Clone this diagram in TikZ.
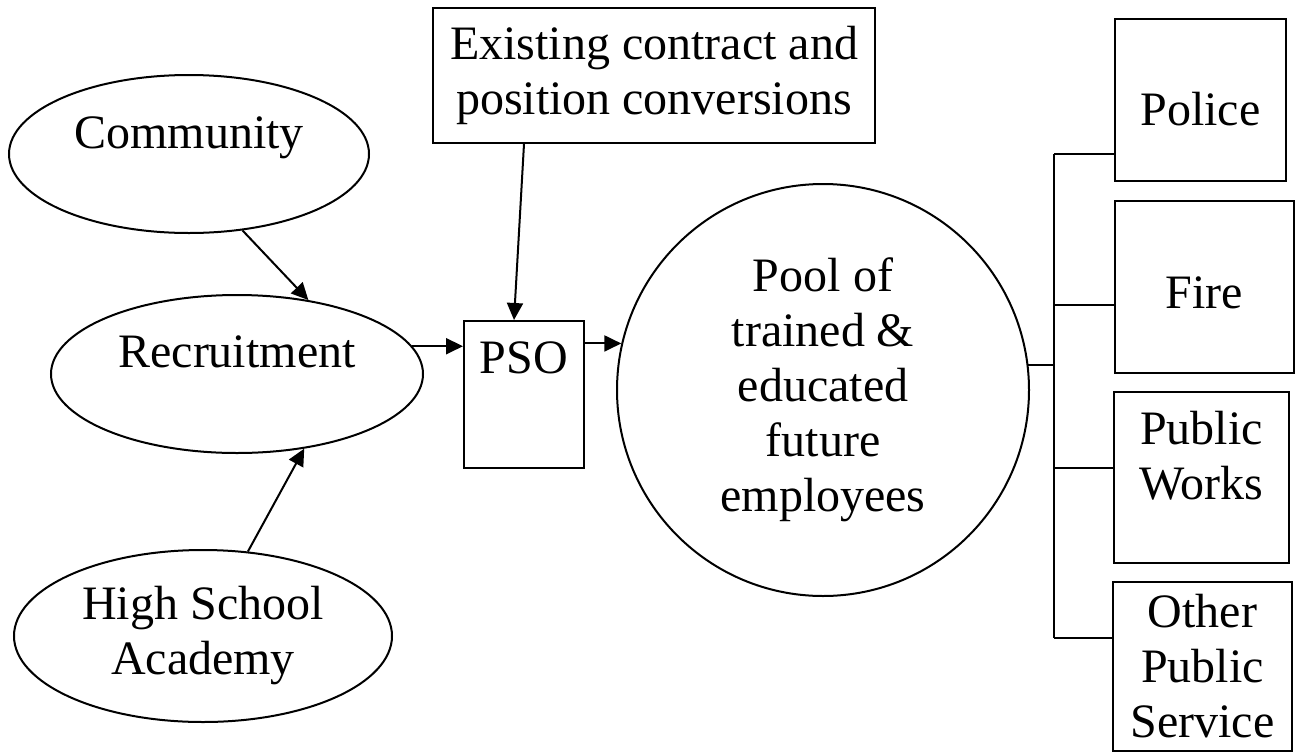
\documentclass[tikz,border=0pt]{standalone}
\usepackage{fontspec}
\setmainfont{Liberation Serif}
\usetikzlibrary{arrows.meta}
\usetikzlibrary{shapes.geometric}
\tikzset{
    oval/.style = {draw,ellipse,line width=2pt,inner sep=0,align=center},
    box/.style = {draw,rectangle,line width=2pt,inner sep=0,align=center},
    pool/.style = {draw,circle,line width=2pt,inner sep=0,align=center},
    flow/.style = {line width=2pt,-{Triangle[length=17pt,width=16pt]}},
    wire/.style = {line width=2pt}
}

\begin{document}
\begin{tikzpicture}[x=1pt,y=-1pt,font=\fontsize{48}{55}\selectfont]
    \useasboundingbox (0,0) rectangle (1302,753);
    % Intake
    \node[oval,minimum width=360pt,minimum height=158pt,text height=34pt,text depth=46pt] (community) at (189,154) {Community};
    \node[oval,minimum width=372pt,minimum height=158pt,text height=34pt,text depth=48pt] (recruitment) at (237,374) {Recruitment};
    \node[oval,minimum width=378pt,minimum height=172pt] (academy) at (203,636) {High School\\Academy};
    \node[box,minimum width=442pt,minimum height=135pt] (existing) at (654,75.5) {Existing contract and\\position conversions};
    \node[box,minimum width=120pt,minimum height=147pt,text height=34pt,text depth=77pt] (pso) at (524,394.5) {PSO};
    \node[pool,minimum size=412pt] (pool) at (823,390) {Pool of\\trained \&\\educated\\future\\employees};
    % Services
    \node[box,minimum width=171pt,minimum height=162pt,text height=50pt,text depth=0pt] (police) at (1200.5,100) {Police};
    \node[box,minimum width=179pt,minimum height=172pt,text height=42pt,text depth=0pt] (fire) at (1204.5,287) {Fire};
    \node[box,minimum width=175pt,minimum height=171pt,text depth=44pt] (works) at (1201.5,477.5) {Public\\Works};
    \node[box,minimum width=179pt,minimum height=169pt] (other) at (1202.5,666.5) {Other\\Public\\Service};
    % Flow into PSO and the pool
    \draw[flow] (community.-55) -- (recruitment.46);
    \draw[flow] (academy.62) -- (recruitment.-48);
    \draw[flow] (recruitment.9) -- (recruitment.9 -| pso.west);
    \draw[flow] ([xshift=-130pt]existing.south) -- ([xshift=-10pt]pso.north);
    \draw[flow] (pso.east |- pool.167.7) -- (pool.167.7);
    % Bus out to the services
    \coordinate (jpolice) at (1054,154);
    \coordinate (jfire) at (1054,305);
    \coordinate (jpool) at (pool.7.5 -| jpolice);
    \coordinate (jworks) at (1054,468);
    \coordinate (jother) at (1054,638);
    \draw[wire] (jpolice) -- (jother);
    \draw[wire] (pool.7.5) -- (jpool);
    \foreach \dest in {police,fire,works,other}
        \draw[wire] (j\dest) -- (j\dest -| \dest.west);
\end{tikzpicture}
\end{document}
